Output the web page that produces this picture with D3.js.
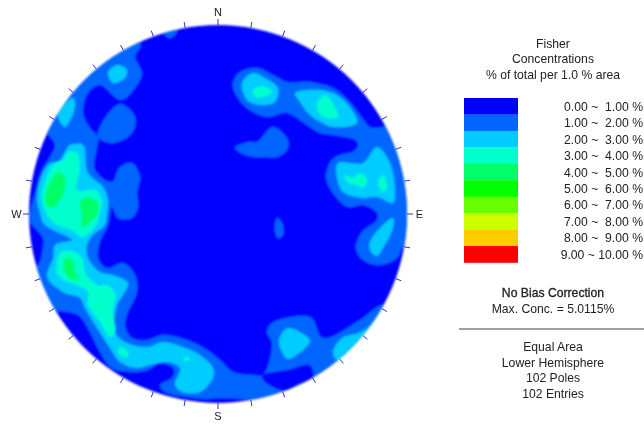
<!DOCTYPE html>
<html><head><meta charset="utf-8">
<script src="https://cdn.jsdelivr.net/npm/d3@7"></script>
<style>html,body{margin:0;background:#fff}svg{display:block}text{font-family:"Liberation Sans",Arial,sans-serif;fill:#222;white-space:pre}</style>
</head><body><svg id="c" width="644" height="425"></svg>
<script>
// Contour vertices digitised in net units: east +, north +, net radius 189.
const bandColors=["#0000ff","#0066ff","#00ccff","#00ffcc","#00ff66","#00ff00","#66ff00","#ccff00","#ffcc00","#ff0000"];
const bandLabels=["0.00 ~  1.00 %","1.00 ~  2.00 %","2.00 ~  3.00 %","3.00 ~  4.00 %","4.00 ~  5.00 %","5.00 ~  6.00 %","6.00 ~  7.00 %","7.00 ~  8.00 %","8.00 ~  9.00 %","9.00 ~ 10.00 %"];
const titleLines=["Fisher","Concentrations","% of total per 1.0 % area"];
const statLines=["No Bias Correction","Max. Conc. = 5.0115%"];
const netLines=["Equal Area","Lower Hemisphere","102 Poles","102 Entries"];
const compass=[["N",0],["E",90],["S",180],["W",270]];
const tickAzimuths=d3.range(0,360,10);

const l1West=[[-78,167],[-83,157],[-76,141],[-81,129],[-97,114],[-118,129],[-130,121],[-135,101],[-128,86],[-120,77],[-121,67],[-123,44],[-106,32],[-98,47],[-86,51],[-78,37],[-81,22],[-80,7],[-86,-4],[-100,-4],[-106,7],[-110,-11],[-118,-28],[-120,-44],[-111,-54],[-95,-49],[-83,-61],[-81,-78],[-90,-98],[-93,-111],[-86,-124],[-71,-126],[-55,-121],[-31,-126],[-11,-136],[2,-146],[15,-158],[35,-161],[45,-161],[54,-129],[49,-118],[54,-109],[92,-103],[105,-124],[142,-106],[165,-91],[180,-100],[150,-150],[100,-175],[75,-185],[67,-177],[52,-183],[32,-185],[2,-184],[-11,-185],[-31,-183],[-53,-178],[-58,-171],[-46,-164],[-44,-155],[-58,-149],[-70,-156],[-85,-158],[-106,-154],[-118,-138],[-128,-118],[-140,-101],[-163,-96],[-188,-86],[-193,-56],[-180,-51],[-175,-34],[-175,-24],[-183,-14],[-188,-8],[-188,1],[-182,24],[-176,44],[-168,57],[-163,69],[-171,81],[-183,99],[-128,154],[-78,176]];
const l0Pocket=[[45,-166],[67,-177],[79,-171],[95,-163],[92,-151],[69,-156],[45,-161]];
const l1TopRim=[[-55,181],[-48,176],[-41,183],[-48,195],[-60,190]];
const l1NwBlob=[[-120,77],[-116,91],[-98,110],[-83,97],[-86,81],[-105,71]];
const l1East=[[15,131],[22,142],[39,146],[55,139],[69,132],[92,132],[115,126],[130,114],[142,99],[152,87],[165,87],[185,90],[200,40],[195,-30],[185,-33],[179,-44],[162,-51],[145,-46],[138,-34],[144,-18],[159,-6],[159,1],[145,9],[130,7],[115,21],[108,37],[114,54],[125,60],[135,62],[140,69],[137,74],[115,79],[102,81],[89,89],[69,101],[49,97],[29,106],[17,121]];
const l1Mid=[[17,66],[30,72],[39,72],[55,87],[70,74],[69,64],[59,57],[45,57],[37,57],[27,59]];
const l1Centre=[[59,-4],[64,-9],[65,-21],[60,-24],[57,-16]];

const l2West=[[-148,69],[-135,69],[-130,41],[-115,27],[-110,14],[-111,-1],[-113,-11],[-125,-21],[-131,-31],[-130,-44],[-118,-58],[-105,-61],[-90,-69],[-95,-81],[-101,-91],[-103,-118],[-93,-128],[-71,-133],[-55,-128],[-35,-133],[-18,-141],[-5,-154],[-5,-164],[-18,-178],[-36,-178],[-43,-171],[-38,-154],[-51,-148],[-68,-151],[-81,-154],[-98,-148],[-108,-134],[-121,-114],[-133,-94],[-138,-84],[-153,-79],[-168,-68],[-171,-61],[-165,-44],[-163,-31],[-146,-26],[-150,-23],[-165,-16],[-175,-9],[-178,1],[-181,14],[-178,34],[-168,51],[-160,52],[-150,67]];
const l2Nw=[[-110,142],[-100,149],[-91,144],[-93,136],[-105,131]];
const l2RimW=[[-160,99],[-145,116],[-143,107],[-153,87]];
const l2Ne1=[[24,131],[35,141],[47,136],[60,126],[57,112],[42,109],[29,114]];
const l2Ne2=[[77,121],[102,124],[119,119],[132,107],[139,91],[115,87],[99,94],[90,101],[82,112]];
const l2Ne3=[[120,51],[145,51],[159,67],[172,51],[177,21],[175,11],[159,17],[145,16],[125,22],[119,37]];
const l2Se=[[152,-28],[160,-16],[175,-4],[175,-14],[165,-34],[159,-42],[152,-36]];
const l2South=[[70,-114],[92,-126],[90,-131],[70,-145],[64,-138],[61,-126]];
const l2RimSe=[[115,-138],[124,-124],[140,-119],[149,-114],[159,-103],[147,-123],[134,-134],[119,-146]];

const l3W1=[[-150,62],[-141,61],[-138,47],[-141,24],[-123,24],[-116,14],[-118,1],[-123,-13],[-136,-23],[-146,-16],[-161,-11],[-171,-1],[-176,17],[-171,37],[-163,51],[-155,54]];
const l3W2=[[-158,-39],[-146,-37],[-136,-44],[-133,-58],[-121,-71],[-111,-71],[-103,-79],[-105,-98],[-103,-118],[-108,-123],[-118,-108],[-130,-91],[-130,-78],[-141,-71],[-155,-66],[-161,-58]];
const l3Sw=[[-98,-133],[-90,-138],[-91,-143],[-100,-139]];
const l3S=[[-34,-144],[-30,-143],[-28,-146],[-33,-147]];
const l3Ne1=[[35,124],[45,128],[54,122],[45,117],[37,117]];
const l3Ne2=[[99,111],[107,119],[117,107],[120,97],[109,96],[100,102]];
const l3E1=[[127,39],[135,36],[142,41],[149,34],[145,26],[139,29],[130,31]];
const l3E2=[[165,39],[169,27],[165,22],[160,31]];

const l4A=[[-160,42],[-153,37],[-156,17],[-166,6],[-173,11],[-170,27]];
const l4B=[[-131,17],[-120,11],[-121,-1],[-128,-8],[-136,-13],[-136,-1],[-138,11]];
const l4C=[[-153,-44],[-145,-46],[-143,-59],[-138,-63],[-146,-66],[-153,-58]];

const contourStack=[
 [1,l1West],[0,l0Pocket],[1,l1TopRim],[1,l1NwBlob],[1,l1East],[1,l1Mid],[1,l1Centre],
 [2,l2West],[2,l2Nw],[2,l2RimW],[2,l2Ne1],[2,l2Ne2],[2,l2Ne3],[2,l2Se],[2,l2South],[2,l2RimSe],
 [3,l3W1],[3,l3W2],[3,l3Sw],[3,l3S],[3,l3Ne1],[3,l3Ne2],[3,l3E1],[3,l3E2],
 [4,l4A],[4,l4B],[4,l4C]];

const svg=d3.select("#c");
const defs=svg.append("defs");
defs.append("filter").attr("id","soft").attr("x","-5%").attr("y","-5%").attr("width","110%").attr("height","110%")
  .append("feGaussianBlur").attr("stdDeviation",1.0);
defs.append("filter").attr("id","softText").attr("x","-5%").attr("y","-5%").attr("width","110%").attr("height","110%")
  .append("feGaussianBlur").attr("stdDeviation",0.55);

const R=189;
const x=d3.scaleLinear().domain([-R,R]).range([29,407]);
const y=d3.scaleLinear().domain([-R,R]).range([403,25]);
defs.append("clipPath").attr("id","net").append("circle")
  .attr("cx",x(0)).attr("cy",y(0)).attr("r",x(R)-x(0));

const tickLayer=svg.append("g").attr("filter","url(#softText)");
tickLayer.selectAll("line").data(tickAzimuths).join("line")
  .attr("x1",a=>x(R*Math.sin(a*Math.PI/180))).attr("y1",a=>y(R*Math.cos(a*Math.PI/180)))
  .attr("x2",a=>x((R+6)*Math.sin(a*Math.PI/180))).attr("y2",a=>y((R+6)*Math.cos(a*Math.PI/180)))
  .attr("stroke","#3030d0").attr("stroke-width",1);
const net=svg.append("g").attr("filter","url(#soft)");
net.append("circle").attr("cx",x(0)).attr("cy",y(0)).attr("r",x(R)-x(0)).attr("fill",bandColors[0]);
const line=d3.line().x(d=>x(d[0])).y(d=>y(d[1])).curve(d3.curveCatmullRomClosed.alpha(0.5));
net.append("g").attr("clip-path","url(#net)").selectAll("path").data(contourStack).join("path")
  .attr("d",d=>line(d[1])).attr("fill",d=>bandColors[d[0]]);

const fs=12.2;
const txt=svg.append("g").attr("filter","url(#softText)");
txt.selectAll(".compass").data(compass).join("text").attr("class","compass")
  .attr("x",d=>x((R+12.5)*Math.sin(d[1]*Math.PI/180)))
  .attr("y",d=>y((R+13)*Math.cos(d[1]*Math.PI/180))+4)
  .attr("text-anchor","middle").attr("font-size",11).text(d=>d[0]);

const cx=553;
function block(lines,ys,heavy){
  txt.append("g").selectAll("text").data(lines).join("text")
   .attr("x",cx).attr("y",(d,i)=>ys[i]).attr("text-anchor","middle").attr("font-size",fs)
   .attr("stroke",(d,i)=>heavy&&i===0?"#222":null).attr("stroke-width",(d,i)=>heavy&&i===0?0.3:null).text(d=>d);
}
block(titleLines,[47.5,62.5,79]);
block(statLines,[297,312.5],true);
block(netLines,[351,366.5,381.5,398]);

const rows=d3.scaleBand().domain(d3.range(bandColors.length)).range([98,262.5]);
svg.append("g").attr("filter","url(#softText)").selectAll("rect").data(bandColors).join("rect")
  .attr("x",464).attr("width",54).attr("y",(d,i)=>rows(i)).attr("height",rows.bandwidth()+0.3).attr("fill",d=>d);
txt.append("g").selectAll("text").data(bandLabels).join("text")
  .attr("x",643).attr("y",(d,i)=>rows(i)+rows.bandwidth()/2+1.0+3.5)
  .attr("text-anchor","end").attr("font-size",fs).text(d=>d);
txt.append("line").attr("x1",459).attr("x2",644).attr("y1",329).attr("y2",329).attr("stroke","#444").attr("stroke-width",1);
</script></body></html>
